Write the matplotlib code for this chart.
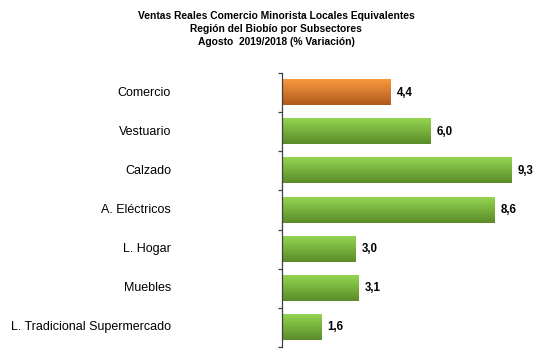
import matplotlib
matplotlib.use("Agg")
import matplotlib.pyplot as plt
import numpy as np
from matplotlib.colors import LinearSegmentedColormap

plt.rcParams['font.family'] = ['Liberation Sans', 'DejaVu Sans']

categories = ["Comercio", "Vestuario", "Calzado", "A. Eléctricos", "L. Hogar",
              "Muebles", "L. Tradicional Supermercado"]
values = [4.4, 6.0, 9.3, 8.6, 3.0, 3.1, 1.6]
labels = ["4,4", "6,0", "9,3", "8,6", "3,0", "3,1", "1,6"]
title = "Ventas Reales Comercio Minorista Locales Equivalentes\nRegión del Biobío por Subsectores\nAgosto  2019/2018 (% Variación)"

W, H = 542, 355
fig = plt.figure(figsize=(W/100, H/100), dpi=100)
ax = fig.add_axes([282/W, 1-347/H, (541-282)/W, (347-73)/H])

n = len(categories)
ypos = np.arange(n)
bh = 0.64

green = LinearSegmentedColormap.from_list("g", ["#5b8c28", "#93d451"])
orange = LinearSegmentedColormap.from_list("o", ["#b05a1c", "#f8993f"])
grad = np.linspace(0, 1, 64).reshape(-1, 1)

bars = ax.barh(ypos, values, height=bh, color='none', edgecolor='none')
for i, (b, v) in enumerate(zip(bars, values)):
    cmap = orange if i == 0 else green
    y0 = b.get_y()
    ax.imshow(grad[::-1], cmap=cmap, aspect='auto',
              extent=[0, v, y0 + bh, y0], origin='upper', zorder=2)
    ax.text(v + 0.25, i, labels[i], va='center', ha='left', fontsize=8.3,
            fontweight='bold', color='black')

ax.set_xlim(0, 10.5)
ax.set_ylim(n - 0.5, -0.5)

for s in ['top', 'right', 'bottom']:
    ax.spines[s].set_visible(False)
ax.spines['left'].set_color('#404040')
ax.spines['left'].set_linewidth(0.9)
ax.set_xticks([])
ax.set_yticks(ypos)
ax.set_yticklabels([])
ax.tick_params(axis='y', which='major', length=0)
ax.set_yticks(np.arange(-0.5, n, 1), minor=True)
ax.tick_params(axis='y', which='minor', length=3, direction='out', color='#404040', width=0.9)

for i, c in enumerate(categories):
    ax.annotate(c, xy=(0, i), xycoords=('axes fraction', 'data'),
                xytext=(-(282-171), 0), textcoords='offset pixels',
                ha='right', va='center', fontsize=9, color='black')

fig.text(276/W, 1-11/H, title, ha='center', va='top', fontsize=7.4,
         fontweight='bold', linespacing=1.35)

fig.savefig("out.png", dpi=100)
